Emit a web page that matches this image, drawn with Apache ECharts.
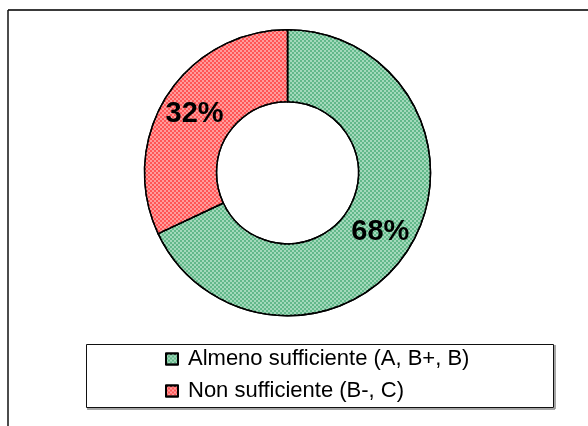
<!DOCTYPE html>
<html>
<head>
<meta charset="utf-8">
<script src="https://cdn.jsdelivr.net/npm/echarts@6/dist/echarts.min.js"></script>
<style>
html,body{margin:0;padding:0;background:#fff;}
#c{width:588px;height:426px;}
</style>
</head>
<body>
<div id="c"></div>
<script>
var categories = ['Almeno sufficiente (A, B+, B)', 'Non sufficiente (B-, C)'];
var values = [68, 32];
var colors = ['#62b88a', '#ff5656'];
var patternColors = ['#a3d9bb', '#ff9c9c'];

var chart = echarts.init(document.getElementById('c'), null, {renderer: 'canvas'});
var data = categories.map(function (name, i) {
  return {
    name: name,
    value: values[i],
    itemStyle: {
      color: colors[i],
      decal: {
        symbol: 'rect',
        symbolSize: 1,
        color: patternColors[i],
        dashArrayX: [[2, 2], [0, 2, 2, 0]],
        dashArrayY: [2, 0],
        rotation: 0
      }
    }
  };
});

chart.setOption({
  animation: false,
  backgroundColor: '#ffffff',
  textStyle: { fontFamily: '"Liberation Sans", Arial, sans-serif' },
  graphic: [
    { type: 'line', shape: { x1: 8, y1: 10, x2: 588, y2: 10 }, style: { stroke: '#3a3a3a', lineWidth: 2 } },
    { type: 'line', shape: { x1: 8, y1: 10, x2: 8, y2: 426 }, style: { stroke: '#111', lineWidth: 1.5 } },
    { type: 'line', shape: { x1: 87, y1: 409, x2: 555, y2: 409 }, style: { stroke: '#888', lineWidth: 1.5 } },
    { type: 'line', shape: { x1: 555, y1: 345, x2: 555, y2: 409 }, style: { stroke: '#888', lineWidth: 1.5 } },
    { type: 'rect', shape: { x: 86.5, y: 344.5, width: 467, height: 63 }, style: { fill: 'none', stroke: '#111', lineWidth: 1 } }
  ],
  legend: {
    orient: 'vertical',
    left: 165,
    top: 348,
    padding: 0,
    itemWidth: 12,
    itemHeight: 11,
    itemGap: 10,
    icon: 'rect',
    textStyle: { fontSize: 22, lineHeight: 20, color: '#000', padding: [0, 0, 0, 5], fontFamily: '"Liberation Sans", Arial, sans-serif' },
    data: categories
  },
  series: [{
    type: 'pie',
    center: [287.5, 172.75],
    radius: [71, 143],
    startAngle: 90,
    clockwise: true,
    avoidLabelOverlap: false,
    itemStyle: { borderColor: '#000', borderWidth: 1.5 },
    label: {
      show: true,
      position: 'inside',
      formatter: '{d}%',
      fontSize: 29,
      fontWeight: 'bold',
      color: '#000',
      fontFamily: '"Liberation Sans", Arial, sans-serif'
    },
    labelLine: { show: false },
    emphasis: { disabled: true },
    data: data
  }]
});
</script>
</body>
</html>
